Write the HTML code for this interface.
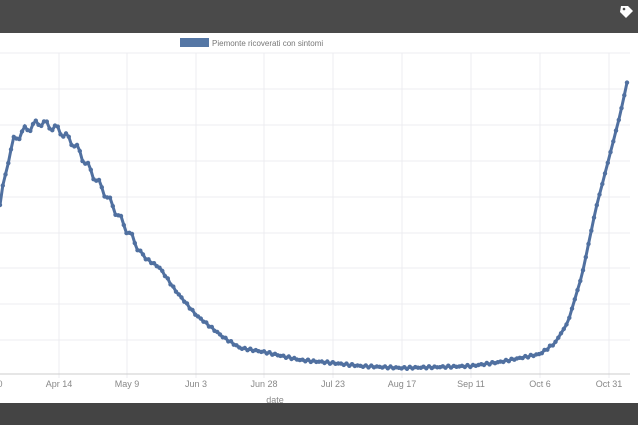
<!DOCTYPE html><html><head><style>
body{margin:0;width:638px;height:425px;overflow:hidden;background:#fff;font-family:"Liberation Sans",sans-serif}
</style></head><body>
<svg id="s" width="638" height="425" xmlns="http://www.w3.org/2000/svg">
<rect x="0" y="0" width="638" height="33" fill="#4a4a4a"/>
<rect x="0" y="403" width="638" height="22" fill="#444"/>
<path d="M621 6 l7 0 l5 5 l-7 7 l-6 -6 z" fill="#fff"/>
<circle cx="624" cy="9" r="1.3" fill="#4a4a4a"/>
<g stroke="#ececf0" stroke-width="1">
<line x1="0" y1="53" x2="630" y2="53"/><line x1="0" y1="89" x2="630" y2="89"/><line x1="0" y1="125" x2="630" y2="125"/><line x1="0" y1="161" x2="630" y2="161"/><line x1="0" y1="197" x2="630" y2="197"/><line x1="0" y1="233" x2="630" y2="233"/><line x1="0" y1="268" x2="630" y2="268"/><line x1="0" y1="304" x2="630" y2="304"/><line x1="0" y1="340" x2="630" y2="340"/>
<line x1="59" y1="53" x2="59" y2="378"/><line x1="127" y1="53" x2="127" y2="378"/><line x1="196" y1="53" x2="196" y2="378"/><line x1="264" y1="53" x2="264" y2="378"/><line x1="333" y1="53" x2="333" y2="378"/><line x1="402" y1="53" x2="402" y2="378"/><line x1="471" y1="53" x2="471" y2="378"/><line x1="540" y1="53" x2="540" y2="378"/><line x1="609" y1="53" x2="609" y2="378"/>
</g>
<line x1="0" y1="374" x2="630" y2="374" stroke="#ccc"/>
<rect x="180" y="38" width="29" height="9" fill="#5577a5"/>
<text x="212" y="46" font-size="8" fill="#777">Piemonte ricoverati con sintomi</text>
<g font-size="9" fill="#888" text-anchor="middle">
<text x="0" y="387">0</text><text x="59" y="387">Apr 14</text><text x="127" y="387">May 9</text><text x="196" y="387">Jun 3</text><text x="264" y="387">Jun 28</text><text x="333" y="387">Jul 23</text><text x="402" y="387">Aug 17</text><text x="471" y="387">Sep 11</text><text x="540" y="387">Oct 6</text><text x="609" y="387">Oct 31</text>
<text x="275" y="403">date</text></g>
<g id="g"></g>
</svg>
<script>
var k=[[0,205],[8,160],[14,140],[25,130],[40,122],[59,130],[75,145],[90,170],[103,190],[127,230],[145,258],[160,268],[175,290],[196,315],[223,337],[240,348],[264,352],[300,360],[333,363],[360,366],[402,368],[440,367],[471,366],[500,362],[540,354],[555,343],[568,322],[582,275],[596,208],[609,158],[620,115],[628,78]];
function f(x){for(var i=1;i<k.length;i++)if(x<=k[i][0]){var a=k[i-1],b=k[i];return a[1]+(b[1]-a[1])*(x-a[0])/(b[0]-a[0]);}return 78;}
var pts=[],h='';
for(var x=0;x<=628;x+=2.75){var n=x<140?Math.sin(x*1.7)*4:(x<560?Math.sin(x*1.3)*1:0);var y=f(x)+n;pts.push(x.toFixed(1)+','+y.toFixed(1));h+='<circle cx="'+x.toFixed(1)+'" cy="'+y.toFixed(1)+'" r="2.2" fill="#5070a0"/>';}
document.getElementById('g').innerHTML='<polyline points="'+pts.join(' ')+'" fill="none" stroke="#5070a0" stroke-width="3"/>'+h;
</script>
</body></html>
